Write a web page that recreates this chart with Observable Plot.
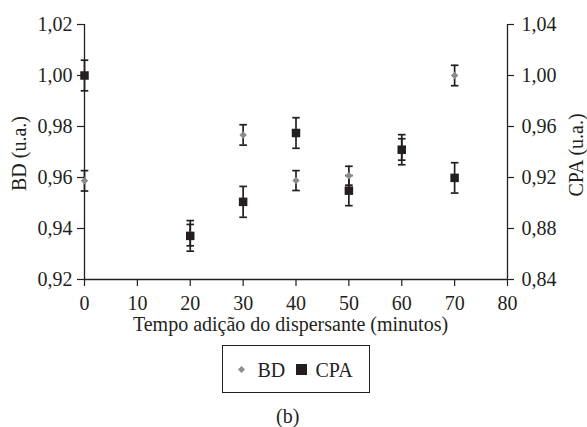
<!DOCTYPE html>
<html>
<head>
<meta charset="utf-8">
<script src="https://cdn.jsdelivr.net/npm/d3@7"></script>
<script src="https://cdn.jsdelivr.net/npm/@observablehq/plot@0.6"></script>
<style>
  html, body { margin: 0; padding: 0; background: #fff; }
  #wrap { position: relative; width: 587px; height: 427px; font-family: "Liberation Serif", LiberationSerif, Tinos, "DejaVu Serif", serif; color: #231f20; }
  #chart svg { display: block; }
  .abs { position: absolute; font-size: 20px; line-height: 20px; white-space: nowrap; }
  #legend { position: absolute; left: 222px; top: 345px; width: 148px; height: 48px; box-sizing: border-box; border: 1.2px solid #231f20; }
</style>
</head>
<body>
<div id="wrap">
  <div id="chart"></div>
  <div id="legend"></div>
  <div id="legendItems"></div>
  <div class="abs" id="caption" style="left:276px; top:406px;">(b)</div>
</div>
<script>
// ---- data ----
const minutes = [0, 20, 30, 40, 50, 60, 70];
const bdValues = [0.9587, 0.9374, 0.9767, 0.9588, 0.9607, 0.9710, 1.0000];
const bdErrors = [0.0040, 0.0042, 0.0040, 0.0039, 0.0037, 0.0042, 0.0040];
const cpaValues = [1.0000, 0.8742, 0.9009, 0.9549, 0.9097, 0.9418, 0.9197];
const cpaErrors = [0.0120, 0.0120, 0.0121, 0.0120, 0.0118, 0.0118, 0.0119];

const xTicks = [0, 10, 20, 30, 40, 50, 60, 70, 80];
const bdTicks = [0.92, 0.94, 0.96, 0.98, 1.00, 1.02];
const cpaTicks = [0.84, 0.88, 0.92, 0.96, 1.00, 1.04];

const xLabel = "Tempo adição do dispersante (minutos)";
const yLabelLeft = "BD (u.a.)";
const yLabelRight = "CPA (u.a.)";
const seriesNames = ["BD", "CPA"];

// ---- helpers ----
const bdDomain = [0.92, 1.02];
const cpaDomain = [0.84, 1.04];
// map a CPA value onto the BD (left) scale so both share one y scale
const toBD = v => bdDomain[0] + (v - cpaDomain[0]) * (bdDomain[1] - bdDomain[0]) / (cpaDomain[1] - cpaDomain[0]);
const fromBD = v => cpaDomain[0] + (v - bdDomain[0]) * (cpaDomain[1] - cpaDomain[0]) / (bdDomain[1] - bdDomain[0]);
const fmt = v => (Math.round(v * 100) / 100).toFixed(2).replace(".", ",");

const bd = minutes.map((m, i) => ({x: m, y: bdValues[i], lo: bdValues[i] - bdErrors[i], hi: bdValues[i] + bdErrors[i]}));
const cpa = minutes.map((m, i) => ({x: m, y: toBD(cpaValues[i]), lo: toBD(cpaValues[i] - cpaErrors[i]), hi: toBD(cpaValues[i] + cpaErrors[i])}));

const ink = "#231f20";
const grey = "#8c8c8c";
const serifFont = "'Liberation Serif', LiberationSerif, Tinos, 'DejaVu Serif', serif";

// horizontal cap symbol for error bars
const capSymbol = {
  draw(ctx, size) {
    const w = Math.sqrt(size / Math.PI);
    ctx.moveTo(-w, 0);
    ctx.lineTo(w, 0);
  }
};

const errMarks = (data) => [
  Plot.ruleX(data, {x: "x", y1: "lo", y2: "hi", stroke: ink, strokeWidth: 1.7}),
  Plot.dot(data, {x: "x", y: "lo", symbol: capSymbol, r: 3.8, stroke: ink, strokeWidth: 1.7, fill: "none"}),
  Plot.dot(data, {x: "x", y: "hi", symbol: capSymbol, r: 3.8, stroke: ink, strokeWidth: 1.7, fill: "none"})
];

const plot = Plot.plot({
  width: 587,
  height: 340,
  marginLeft: 84,
  marginRight: 80,
  marginTop: 24,
  marginBottom: 61,
  style: {fontFamily: serifFont, fontSize: "20px", color: ink, background: "#fff"},
  x: {domain: [0, 80]},
  y: {domain: bdDomain},
  marks: [
    Plot.axisX({ticks: xTicks, tickSize: 7, tickPadding: 9, tickFormat: d => String(d), label: null, stroke: ink, strokeWidth: 1.2, fontSize: 20}),
    Plot.axisY({ticks: bdTicks, tickFormat: fmt, tickSize: 7, tickPadding: 5, label: null, stroke: ink, strokeWidth: 1.2, fontSize: 20}),
    Plot.axisY({anchor: "right", ticks: cpaTicks.map(toBD), tickFormat: v => fmt(fromBD(v)), tickSize: 6, tickPadding: 8, label: null, stroke: ink, strokeWidth: 1.2, fontSize: 20}),
    Plot.ruleX([0, 80], {stroke: ink, strokeWidth: 1.3}),
    Plot.ruleY([bdDomain[0]], {stroke: ink, strokeWidth: 1.3}),
    ...errMarks(bd),
    ...errMarks(cpa),
    Plot.dot(bd, {x: "x", y: "y", symbol: "diamond2", r: 3.4, fill: grey, stroke: "none"}),
    Plot.dot(cpa, {x: "x", y: "y", symbol: "square", r: 4.8, fill: ink, stroke: "none"}),
    Plot.text([xLabel], {frameAnchor: "bottom", dy: 51, dx: -5.5, lineAnchor: "bottom", textAnchor: "middle", fontSize: 20, fill: ink}),
    Plot.text([yLabelLeft], {frameAnchor: "left", rotate: -90, dx: -59, dy: 1.5, lineAnchor: "bottom", textAnchor: "middle", fontSize: 20, fill: ink}),
    Plot.text([yLabelRight], {frameAnchor: "right", rotate: -90, dx: 75, dy: 3, lineAnchor: "bottom", textAnchor: "middle", fontSize: 20, fill: ink})
  ]
});
document.getElementById("chart").appendChild(plot);

// ---- legend (HTML, below the SVG) ----
const items = document.getElementById("legendItems");
const legendLayout = [
  {name: seriesNames[0], markerLeft: 239, markerTop: 366.5, marker: "diamond", textLeft: 257.5},
  {name: seriesNames[1], markerLeft: 296, markerTop: 364, marker: "square", textLeft: 315.5}
];
legendLayout.forEach(it => {
  const m = document.createElement("div");
  m.style.position = "absolute";
  m.style.left = it.markerLeft + "px";
  m.style.top = it.markerTop + "px";
  if (it.marker === "diamond") {
    m.style.width = "5px"; m.style.height = "5px";
    m.style.background = grey;
    m.style.transform = "rotate(45deg)";
    m.style.transformOrigin = "center";
  } else {
    m.style.width = "11px"; m.style.height = "11px";
    m.style.background = ink;
  }
  items.appendChild(m);
  const t = document.createElement("div");
  t.className = "abs";
  t.style.left = it.textLeft + "px";
  t.style.top = "360px";
  t.textContent = it.name;
  items.appendChild(t);
});
</script>
</body>
</html>
